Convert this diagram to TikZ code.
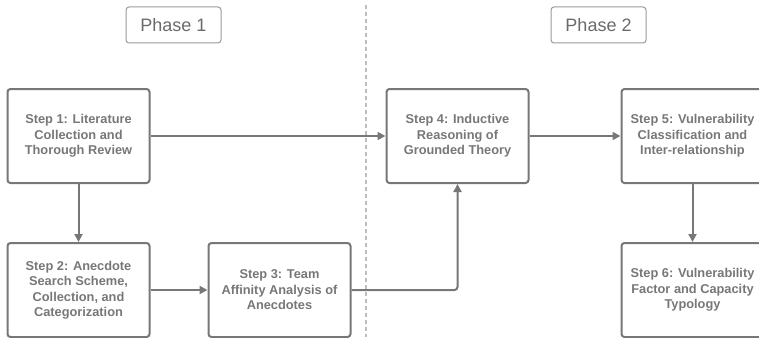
\documentclass[tikz,border=0pt]{standalone}
\usepackage{fontspec}
\setmainfont{Liberation Sans}
\usetikzlibrary{arrows.meta, positioning}
\definecolor{boxGray}{HTML}{777777}
\definecolor{phaseGray}{HTML}{9A9A9A}
\definecolor{phaseText}{HTML}{6A6A6A}
\definecolor{splitGray}{HTML}{BDBDBD}
\begin{document}
\begin{tikzpicture}[x=1pt, y=1pt]
		\tikzstyle{PhaseName} = [rectangle, rounded corners=3pt, minimum width=95pt, minimum height=36pt, text centered, draw=phaseGray, line width=1pt, text=phaseText, font=\fontsize{18}{20}\selectfont]
		\tikzstyle{StepName} = [rectangle, rounded corners=3pt, minimum width=142pt, minimum height=94pt, inner sep=0pt, align=center, draw=boxGray, line width=2pt, text=boxGray, font=\fontsize{12.8}{15.5}\selectfont\bfseries]
		\tikzstyle{arrow} = [line width=2pt, draw=boxGray, -{Triangle[length=8pt, width=8pt, fill=boxGray]}]
		
		\useasboundingbox (0,0) rectangle (759,-337);
		
		\coordinate (splitTop) at (366,-5);
		\coordinate (splitBottom) at (366,-337);
		\draw[splitGray, line width=1.2pt, dash pattern=on 4pt off 3pt] (splitTop) -- (splitBottom);
		
		\node (phaseOne) [PhaseName] at (173.5,-25) {Phase 1};
		\node (phaseTwo) [PhaseName] at (598.5,-25) {Phase 2};
		
		\node (stepOne) [StepName] at (78.5,-136) {Step 1: Literature\\Collection and\\Thorough Review};
		\node (stepTwo) [StepName, below = 58pt of stepOne] {Step 2: Anecdote\\Search Scheme,\\Collection, and\\Categorization};
		\node (stepThree) [StepName, right = 57pt of stepTwo] {Step 3: Team\\Affinity Analysis of\\Anecdotes};
		
		\node (stepFour) [StepName, right = 235pt of stepOne] {Step 4: Inductive\\Reasoning of\\Grounded Theory};
		\node (stepFive) [StepName, right = 91pt of stepFour] {Step 5: Vulnerability\\Classification and\\Inter-relationship};
		\node (stepSix) [StepName, below = 58pt of stepFive] {Step 6: Vulnerability\\Factor and Capacity\\Typology};
		
		\draw[arrow] (stepOne) -- (stepFour);
		\draw[arrow] (stepOne) -- (stepTwo);
		\draw[arrow] (stepTwo) -- (stepThree);
		\draw[arrow, rounded corners=3pt] (stepThree.east) -| (stepFour.south);
		\draw[arrow] (stepFour) -- (stepFive);
		\draw[arrow] (stepFive) -- (stepSix);
\end{tikzpicture}
\end{document}
